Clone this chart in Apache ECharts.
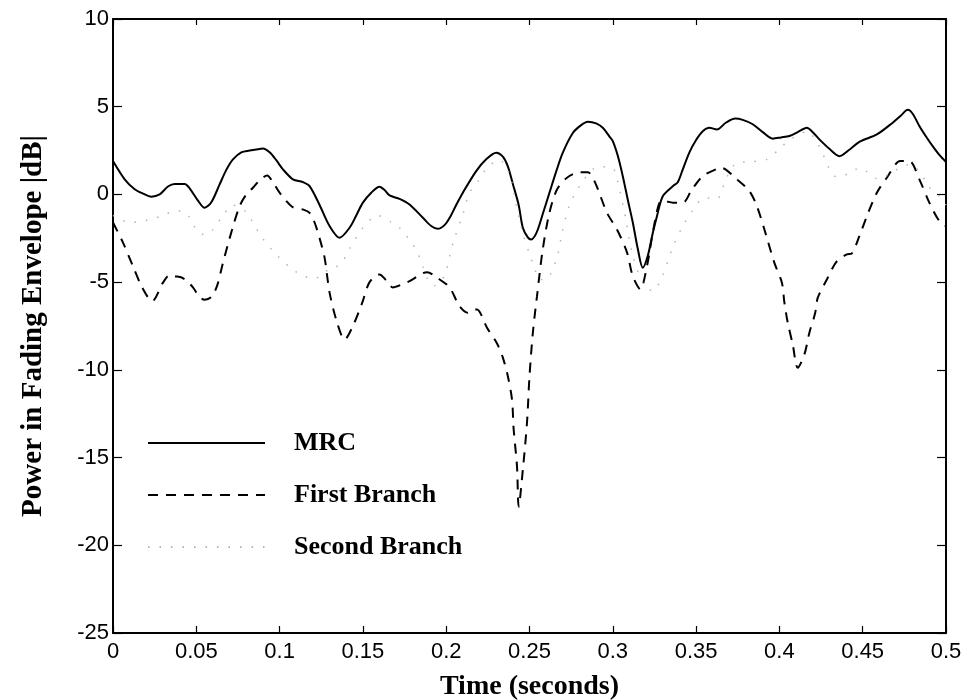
<!DOCTYPE html>
<html>
<head>
<meta charset="utf-8">
<script src="https://cdn.jsdelivr.net/npm/echarts@6/dist/echarts.min.js"></script>
<style>
html,body{margin:0;padding:0;background:#fff;}
#chart{width:965px;height:700px;}
</style>
</head>
<body>
<div id="chart"></div>
<script>
// ---- data ----
const xTicks = [0, 0.05, 0.1, 0.15, 0.2, 0.25, 0.3, 0.35, 0.4, 0.45, 0.5];
const yTicks = [-25, -20, -15, -10, -5, 0, 5, 10];
const seriesNames = ['MRC', 'First Branch', 'Second Branch'];

const mrcT = [0,0.007,0.013,0.018,0.023,0.028,0.033,0.037,0.043,0.046,0.051,0.055,0.059,0.064,0.068,0.072,0.077,0.082,0.087,0.090,0.094,0.098,0.102,0.108,0.114,0.118,0.124,0.130,0.136,0.142,0.146,0.150,0.155,0.160,0.163,0.166,0.172,0.178,0.186,0.191,0.195,0.199,0.202,0.206,0.210,0.218,0.224,0.230,0.234,0.237,0.240,0.2435,0.246,0.249,0.251,0.253,0.255,0.258,0.262,0.266,0.270,0.276,0.281,0.285,0.290,0.294,0.298,0.300,0.303,0.306,0.309,0.312,0.315,0.318,0.321,0.324,0.3265,0.330,0.336,0.339,0.342,0.346,0.350,0.354,0.358,0.3625,0.368,0.3735,0.378,0.384,0.390,0.396,0.401,0.406,0.411,0.4165,0.420,0.424,0.430,0.436,0.442,0.448,0.4585,0.468,0.473,0.477,0.480,0.484,0.488,0.492,0.496,0.500];
const mrcDb = [1.9,0.86,0.3,0.05,-0.13,0.0,0.45,0.6,0.6,0.35,-0.35,-0.76,-0.45,0.57,1.4,2.0,2.4,2.5,2.58,2.62,2.4,1.95,1.43,0.86,0.7,0.47,-0.6,-1.8,-2.47,-1.9,-1.2,-0.47,0.1,0.44,0.25,-0.06,-0.25,-0.57,-1.33,-1.8,-1.96,-1.75,-1.35,-0.6,0.1,1.33,2.0,2.38,2.15,1.6,0.6,-0.6,-1.9,-2.45,-2.57,-2.4,-2.0,-1.1,0.1,1.3,2.38,3.5,3.95,4.14,4.05,3.8,3.3,3.04,2.2,1.04,-0.3,-1.6,-3.1,-4.18,-3.5,-2.2,-1.24,-0.1,0.47,0.7,1.43,2.4,3.1,3.6,3.8,3.7,4.1,4.33,4.25,4.0,3.55,3.18,3.25,3.33,3.55,3.8,3.55,3.14,2.6,2.18,2.55,3.0,3.42,4.09,4.5,4.82,4.6,3.9,3.3,2.75,2.25,1.85];

const firstT = [0,0.006,0.012,0.0175,0.0235,0.030,0.034,0.037,0.0415,0.045,0.048,0.052,0.055,0.059,0.0625,0.066,0.0715,0.076,0.080,0.084,0.088,0.0925,0.096,0.100,0.1075,0.114,0.118,0.121,0.124,0.127,0.130,0.1345,0.139,0.144,0.1495,0.154,0.160,0.164,0.168,0.173,0.178,0.1885,0.1945,0.202,0.208,0.213,0.217,0.2185,0.2245,0.2305,0.234,0.237,0.2395,0.2405,0.2425,0.2435,0.246,0.2485,0.250,0.252,0.2545,0.258,0.262,0.2665,0.2725,0.2805,0.285,0.289,0.2965,0.3025,0.3085,0.312,0.3165,0.3205,0.324,0.328,0.331,0.336,0.342,0.3475,0.354,0.3625,0.365,0.3745,0.382,0.3865,0.391,0.397,0.4015,0.403,0.405,0.408,0.411,0.415,0.418,0.4215,0.423,0.4285,0.4345,0.4405,0.4435,0.448,0.4525,0.4585,0.4645,0.4725,0.478,0.484,0.490,0.496,0.500];
const firstDb = [-1.6,-2.75,-4.1,-5.3,-6.08,-5.03,-4.6,-4.66,-4.75,-5.0,-5.3,-5.85,-6.0,-5.85,-5.2,-3.9,-2.0,-0.67,0.0,0.38,0.8,1.08,0.7,0.1,-0.7,-0.86,-1.05,-1.6,-2.5,-3.6,-5.6,-7.3,-8.27,-7.5,-6.2,-5.0,-4.56,-4.9,-5.3,-5.15,-4.94,-4.43,-4.75,-5.3,-6.37,-6.75,-6.56,-6.56,-7.6,-8.5,-9.3,-10.36,-11.7,-13.4,-15.5,-17.8,-15.7,-13.0,-10.36,-7.9,-5.8,-3.1,-1.03,0.28,0.95,1.27,1.27,0.76,-1.04,-2.0,-3.3,-4.66,-5.4,-4.09,-2.18,-0.47,-0.38,-0.47,-0.47,0.28,1.04,1.46,1.52,0.86,0.19,-0.67,-2.0,-3.9,-5.03,-6.17,-7.3,-8.55,-9.88,-9.12,-7.88,-6.75,-5.9,-4.85,-3.8,-3.42,-3.36,-2.38,-1.24,0.1,0.95,1.9,1.9,0.86,-0.47,-1.52,-1.8];

const secondT = [0,0.010,0.016,0.022,0.030,0.037,0.0415,0.046,0.050,0.055,0.060,0.066,0.072,0.076,0.080,0.084,0.089,0.094,0.098,0.102,0.109,0.114,0.118,0.124,0.129,0.133,0.1375,0.142,0.150,0.159,0.167,0.173,0.1795,0.1825,0.186,0.189,0.193,0.199,0.204,0.210,0.214,0.220,0.2245,0.232,0.238,0.242,0.246,0.250,0.253,0.256,0.2605,0.2665,0.2695,0.274,0.279,0.282,0.288,0.2935,0.300,0.304,0.308,0.312,0.318,0.324,0.330,0.336,0.342,0.348,0.355,0.3625,0.368,0.3745,0.382,0.3925,0.400,0.406,0.412,0.4165,0.423,0.4345,0.442,0.448,0.4525,0.4585,0.465,0.472,0.478,0.484,0.490,0.496,0.500];
const secondDb = [-1.2,-1.6,-1.55,-1.43,-1.2,-0.95,-0.95,-1.3,-2.0,-2.3,-2.0,-1.2,-0.6,-0.8,-1.0,-1.6,-2.4,-3.0,-3.42,-3.8,-4.37,-4.56,-4.8,-4.7,-4.3,-4.18,-3.86,-3.1,-1.9,-1.2,-1.58,-2.0,-2.8,-3.23,-4.1,-4.85,-5.2,-4.6,-2.8,-1.14,0.1,0.86,1.52,1.96,1.14,-0.6,-2.2,-3.4,-4.18,-4.85,-4.8,-3.6,-2.2,-0.6,0.33,0.76,1.43,1.58,1.5,0.3,-1.5,-3.5,-5.0,-5.5,-4.6,-3.0,-1.8,-0.9,-0.2,-0.25,0.9,1.8,1.86,2.0,2.6,3.1,3.4,3.6,2.9,1.0,1.2,1.5,1.3,0.9,1.1,1.5,1.7,1.3,0.4,-0.1,-0.6];

// ---- chart ----
const zip = (a, b) => a.map((t, i) => [t, b[i]]);
const fmt = v => String(parseFloat(Number(v).toFixed(2)));
const chart = echarts.init(document.getElementById('chart'), null, {renderer: 'canvas'});
const sans = 'Liberation Sans, Arial, Helvetica, sans-serif';
const serif = 'Liberation Serif, Times New Roman, serif';
const axisLine = {show: true, onZero: false, lineStyle: {color: '#000', width: 2}};

chart.setOption({
  backgroundColor: '#fff',
  animation: false,
  grid: {left: 113, right: 19, top: 19, bottom: 67, containLabel: false, outerBoundsMode: 'none'},
  legend: {
    data: seriesNames,
    orient: 'vertical',
    left: 147,
    top: 430,
    padding: 0,
    itemWidth: 117,
    itemHeight: 30,
    itemGap: 26,
    selectedMode: false,
    itemStyle: {opacity: 0},
    textStyle: {fontFamily: serif, fontWeight: 'bold', fontSize: 26, color: '#000', padding: [0, 0, 0, 24]}
  },
  xAxis: [
    {
      type: 'value', position: 'bottom', min: xTicks[0], max: xTicks[xTicks.length - 1],
      interval: xTicks[1] - xTicks[0],
      axisLine: axisLine,
      axisTick: {show: true, inside: true, length: 7, lineStyle: {color: '#000', width: 1.2}},
      axisLabel: {color: '#000', fontFamily: sans, fontSize: 22, margin: 8, formatter: fmt},
      splitLine: {show: false},
      name: 'Time (seconds)', nameLocation: 'middle', nameGap: 40,
      nameTextStyle: {fontFamily: serif, fontWeight: 'bold', fontSize: 28, color: '#000'}
    },
    {
      type: 'value', position: 'top', min: xTicks[0], max: xTicks[xTicks.length - 1],
      interval: xTicks[1] - xTicks[0],
      axisLine: axisLine,
      axisTick: {show: true, inside: true, length: 6, lineStyle: {color: '#000', width: 1.2}},
      axisLabel: {show: false}, splitLine: {show: false}
    }
  ],
  yAxis: [
    {
      type: 'value', position: 'left', min: yTicks[0], max: yTicks[yTicks.length - 1],
      interval: yTicks[1] - yTicks[0],
      axisLine: axisLine,
      axisTick: {show: true, inside: true, length: 9, lineStyle: {color: '#000', width: 1.2}},
      axisLabel: {color: '#000', fontFamily: sans, fontSize: 22, margin: 4},
      splitLine: {show: false},
      name: 'Power in Fading Envelope |dB|', nameLocation: 'middle', nameGap: 65, nameRotate: 90,
      nameTextStyle: {fontFamily: serif, fontWeight: 'bold', fontSize: 29, color: '#000'}
    },
    {
      type: 'value', position: 'right', min: yTicks[0], max: yTicks[yTicks.length - 1],
      interval: yTicks[1] - yTicks[0],
      axisLine: axisLine,
      axisTick: {show: true, inside: true, length: 9, lineStyle: {color: '#000', width: 1.2}},
      axisLabel: {show: false}, splitLine: {show: false}
    }
  ],
  series: [
    {
      name: seriesNames[0], type: 'line', data: zip(mrcT, mrcDb), smooth: 0.3,
      symbol: 'none', lineStyle: {color: '#000', width: 2}, itemStyle: {color: '#000'}
    },
    {
      name: seriesNames[1], type: 'line', data: zip(firstT, firstDb), smooth: 0.3,
      symbol: 'none', lineStyle: {color: '#000', width: 2, type: [10, 8]}, itemStyle: {color: '#000'}
    },
    {
      name: seriesNames[2], type: 'line', data: zip(secondT, secondDb), smooth: 0.3,
      symbol: 'none', lineStyle: {color: '#b4b4b4', width: 1.5, type: [1.5, 10]}, itemStyle: {color: '#b4b4b4'}
    }
  ]
});
</script>
</body>
</html>
